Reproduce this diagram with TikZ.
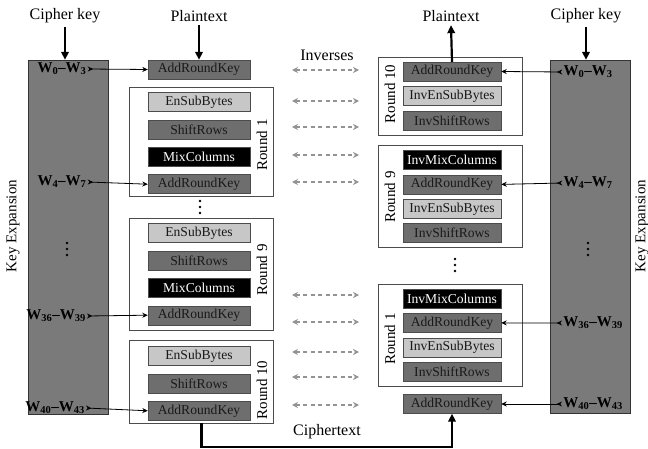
\documentclass[tikz,border=0pt]{standalone}
\usepackage{fontspec}
\setmainfont{Liberation Serif}
\usetikzlibrary{arrows.meta,positioning}

\definecolor{darkbox}{gray}{0.43}
\definecolor{lightbox}{gray}{0.78}
\definecolor{keyfill}{gray}{0.48}
\definecolor{edgegray}{gray}{0.3}
\newcommand{\opfont}{\fontsize{13.6}{15}\selectfont}
\newcommand{\lblfont}{\fontsize{16}{18}\selectfont}
\newcommand{\rndfont}{\fontsize{15}{17}\selectfont}
\newcommand{\wfont}{\fontsize{15}{17}\selectfont\bfseries}

\begin{document}
\begin{tikzpicture}[x=1pt,y=-1pt,node distance=8pt,
    opbox/.style={draw=edgegray,minimum width=102pt,minimum height=19pt,inner sep=0pt,font=\opfont},
    darkop/.style={opbox,fill=darkbox,text=black!90},
    lightop/.style={opbox,fill=lightbox,text=black!90},
    mixop/.style={opbox,fill=black,text=white},
    rop/.style={minimum width=98pt},
    frame/.style={draw=edgegray,fill=white,minimum width=144pt,inner sep=0pt},
    keycol/.style={draw=black!80,fill=keyfill,minimum width=80pt,inner sep=0pt},
    roundlbl/.style={rotate=90,font=\rndfont},
    lbl/.style={font=\lblfont},
    wlbl/.style={font=\wfont,inner sep=1pt},
    dot/.style={fill=black,circle,inner sep=0pt,minimum size=2.6pt},
    thickarrow/.style={line width=2.2pt,-{Triangle[length=8pt,width=7.5pt]}},
    keyarrow/.style={line width=0.8pt,{Stealth[reversed,length=5.5pt,width=5pt]}-{Stealth[length=5.5pt,width=5pt]}},
    inv/.style={gray!85,line width=1.1pt,dash pattern=on 4pt off 3.5pt,{Stealth[length=6pt,width=6pt]}-{Stealth[length=6pt,width=6pt]}}]

  \path[use as bounding box] (0,0) rectangle (648,449);

  % key expansion columns
  \node[keycol,minimum height=354pt] (lkeys) at (68,237) {};
  \node[keycol,minimum height=353pt] (rkeys) at (590,236.5) {};
  \node[roundlbl] (lkeyexp) at (13,226) {Key Expansion};
  \node[roundlbl] (rkeyexp) at (642,226) {Key Expansion};

  % round frames
  \node[frame,minimum height=109pt] (lr1) at (201.5,141.5) {};
  \node[frame,minimum height=112pt] (lr9) at (201.5,274) {};
  \node[frame,minimum height=83pt] (lr10) at (201.5,381.5) {};
  \node[frame,minimum height=78pt] (rr10) at (450,96) {};
  \node[frame,minimum height=102pt] (rr9) at (450,196) {};
  \node[frame,minimum height=102pt] (rr1) at (450,335) {};

  % encryption side
  \node[darkop] (lark0) at (199,69.5) {AddRoundKey};
  \node[lightop] (lsub1) at (199,102) {EnSubBytes};
  \node[darkop,below=of lsub1] (lshift1) {ShiftRows};
  \node[mixop,below=of lshift1] (lmix1) {MixColumns};
  \node[darkop,below=of lmix1] (lark1) {AddRoundKey};
  \node[lightop] (lsub9) at (199,233) {EnSubBytes};
  \node[darkop,below=of lsub9] (lshift9) {ShiftRows};
  \node[mixop,below=of lshift9] (lmix9) {MixColumns};
  \node[darkop,below=of lmix9] (lark9) {AddRoundKey};
  \node[lightop] (lsub10) at (199,356) {EnSubBytes};
  \node[darkop,below=of lsub10] (lshift10) {ShiftRows};
  \node[darkop,below=of lshift10] (lark10) {AddRoundKey};

  \node[roundlbl] (lr1lbl) at (262,145) {Round 1};
  \node[roundlbl] (lr9lbl) at (262,270) {Round 9};
  \node[roundlbl] (lr10lbl) at (262,390) {Round 10};

  % decryption side
  \begin{scope}[node distance=5pt]
    \node[darkop,rop] (rark10) at (452,71.5) {AddRoundKey};
    \node[lightop,rop,below=of rark10] (rsub10) {InvEnSubBytes};
    \node[darkop,rop,below=of rsub10] (rshift10) {InvShiftRows};
    \node[mixop,rop] (rmix9) at (452,160) {InvMixColumns};
    \node[darkop,rop,below=of rmix9] (rark9) {AddRoundKey};
    \node[lightop,rop,below=of rark9] (rsub9) {InvEnSubBytes};
    \node[darkop,rop,below=of rsub9] (rshift9) {InvShiftRows};
    \node[mixop,rop] (rmix1) at (452,298.5) {InvMixColumns};
    \node[darkop,rop,below=of rmix1] (rark1) {AddRoundKey};
    \node[lightop,rop,below=of rark1] (rsub1) {InvEnSubBytes};
    \node[darkop,rop,below=of rsub1] (rshift1) {InvShiftRows};
    \node[darkop,rop] (rark0) at (452,404) {AddRoundKey};
  \end{scope}

  \node[roundlbl] (rr10lbl) at (390,94) {Round 10};
  \node[roundlbl] (rr9lbl) at (390,197) {Round 9};
  \node[roundlbl] (rr1lbl) at (390,339) {Round 1};

  % vertical dots
  \foreach \x/\y in {200/201,455/259,67/243,588/243}{
    \foreach \k in {0,6,12}
      \node[dot] at (\x,\y+\k) {};
  }

  % top and bottom labels
  \node[lbl] (lck) at (65,16) {Cipher key};
  \node[lbl] (lpt) at (199,16) {Plaintext};
  \node[lbl] (rpt) at (451,16) {Plaintext};
  \node[lbl] (rck) at (586,16) {Cipher key};
  \node[lbl] (invlbl) at (327,55) {Inverses};
  \node[lbl] (ctlbl) at (327,432) {Ciphertext};

  \draw[thickarrow] (lck.south) -- (lck.south |- lkeys.north);
  \draw[thickarrow] (lpt.south) -- (lark0.north);
  \draw[thickarrow] (rark10.north) -- (rpt.south);
  \draw[thickarrow] (rck.south) -- (rck.south |- rkeys.north);
  \draw[thickarrow] (lr10.south) -- ++(0,24) -| (rark0.south);

  % round keys
  \node[wlbl] (lw0) at (62,69) {W\textsubscript{0}--W\textsubscript{3}};
  \node[wlbl] (lw4) at (62,182) {W\textsubscript{4}--W\textsubscript{7}};
  \node[wlbl] (lw36) at (56,316) {W\textsubscript{36}--W\textsubscript{39}};
  \node[wlbl] (lw40) at (55,408) {W\textsubscript{40}--W\textsubscript{43}};
  \node[wlbl] (rw0) at (588,72) {W\textsubscript{0}--W\textsubscript{3}};
  \node[wlbl] (rw4) at (588,183) {W\textsubscript{4}--W\textsubscript{7}};
  \node[wlbl] (rw36) at (593,323) {W\textsubscript{36}--W\textsubscript{39}};
  \node[wlbl] (rw40) at (593,404) {W\textsubscript{40}--W\textsubscript{43}};

  \draw[keyarrow] (lw0.east) -- (lark0.west);
  \draw[keyarrow] (lw4.east) -- (lark1.west);
  \draw[keyarrow] (lw36.east) -- (lark9.west);
  \draw[keyarrow] (lw40.east) -- (lark10.west);
  \draw[keyarrow] (rw0.west) -- (rark10.east);
  \draw[keyarrow] (rw4.west) -- (rark9.east);
  \draw[keyarrow] (rw36.west) -- (rark1.east);
  \draw[keyarrow] (rw40.west) -- (rark0.east);

  % inverse pairs
  \foreach \y in {70,101,127,155,182,295,322,352,377,405}{
    \draw[inv] (292,\y) -- (359,\y);
  }
\end{tikzpicture}
\end{document}
